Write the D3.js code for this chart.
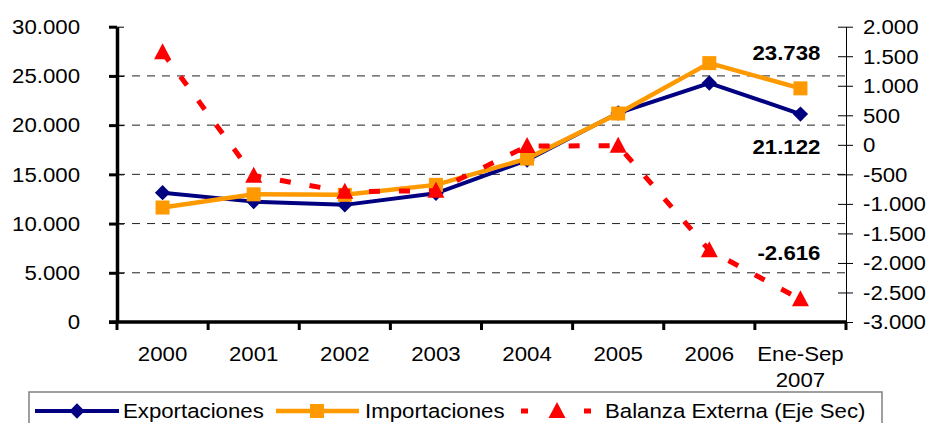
<!DOCTYPE html>
<html><head><meta charset="utf-8">
<script src="https://cdn.jsdelivr.net/npm/d3@7"></script>
<style>
html,body{margin:0;padding:0;background:#fff;}
svg{display:block;}
text{font-family:"Liberation Sans",Arial,sans-serif;font-size:19.5px;fill:#000;}
</style></head>
<body>
<svg id="chart" width="930" height="423"></svg>
<script>
const categories = ["2000","2001","2002","2003","2004","2005","2006","Ene-Sep 2007"];
const exportaciones = [13140, 12230, 11900, 13070, 16450, 21230, 24280, 21122];
const importaciones = [11630, 12970, 12920, 13930, 16600, 21180, 26300, 23738];
const balanza = [1566, -522, -793, -776, -22, -14, -1785, -2616];
const leftTicks = [0, 5000, 10000, 15000, 20000, 25000, 30000];
const rightTicks = [-3000, -2500, -2000, -1500, -1000, -500, 0, 500, 1000, 1500, 2000];
const gridTicks = [5000, 10000, 15000, 20000, 25000];
const seriesNames = ["Exportaciones", "Importaciones", "Balanza Externa (Eje Sec)"];

const SX = 1.14; // horizontal text stretch
const FS = "19.5px";
const FF = "Liberation Sans, Arial, sans-serif";
const loc = d3.formatLocale({decimal:",", thousands:".", grouping:[3], currency:["",""], minus:"-"});
const fmt = loc.format(",d");

const svg = d3.select("#chart");
const L = 117, R = 846, T = 26.7, B = 322;
const x = d3.scaleBand().domain(categories).range([L, R]);
const yL = d3.scaleLinear().domain([0, 30000]).range([B, T]);
const yR = d3.scaleLinear().domain([-3000, 2000]).range([B, T]);
const cx = c => x(c) + x.bandwidth()/2;

// gridlines
svg.append("g").selectAll("line").data(gridTicks).join("line")
  .attr("x1", L).attr("x2", R).attr("y1", d => yL(d)).attr("y2", d => yL(d))
  .attr("stroke", "#222").attr("stroke-width", 1).attr("stroke-dasharray", "8,7");

// left axis
const gl = svg.append("g").attr("transform", `translate(${L},0)`)
  .call(d3.axisLeft(yL).tickValues(leftTicks).tickSize(8).tickSizeOuter(0).tickFormat(fmt));
gl.select(".domain").attr("stroke", "#000").attr("stroke-width", 3.5);
gl.selectAll(".tick line").attr("stroke", "#000").attr("stroke-width", 3);
gl.selectAll(".tick").append("line").attr("x1", 0).attr("x2", 7).attr("stroke", "#000").attr("stroke-width", 1);
gl.selectAll(".tick text").attr("x", -37/SX).attr("dy", "0.35em")
  .attr("transform", `scale(${SX},1)`).style("font-size", FS).style("font-family", FF);

// right axis
const gr = svg.append("g").attr("transform", `translate(${R},0)`)
  .call(d3.axisRight(yR).tickValues(rightTicks).tickSize(7).tickSizeOuter(0).tickFormat(fmt));
gr.select(".domain").attr("stroke", "#000").attr("stroke-width", 1);
gr.selectAll(".tick line").attr("stroke", "#000").attr("stroke-width", 1);
gr.selectAll(".tick").append("line").attr("x1", 0).attr("x2", -8).attr("stroke", "#000").attr("stroke-width", 1);
gr.selectAll(".tick text").attr("x", 17/SX).attr("dy", "0.35em")
  .attr("transform", `scale(${SX},1)`).style("font-size", FS).style("font-family", FF);

// bottom axis
const gb = svg.append("g").attr("transform", `translate(0,${B})`)
  .call(d3.axisBottom(x).tickSize(0).tickPadding(0));
gb.select(".domain").remove();
gb.append("line").attr("x1", L - 8).attr("x2", R).attr("y1", 0).attr("y2", 0)
  .attr("stroke", "#000").attr("stroke-width", 3.5);
const bounds = categories.map(c => x(c)).concat([R]);
gb.selectAll("line.bt").data(bounds).join("line").attr("class", "bt")
  .attr("x1", d => d).attr("x2", d => d).attr("y1", 0).attr("y2", 8)
  .attr("stroke", "#000").attr("stroke-width", 3);
gb.selectAll(".tick").each(function(d) {
  const tick = d3.select(this);
  tick.select("text").remove();
  d.split(" ").forEach((p, i) => {
    tick.append("text").attr("transform", `translate(0,${40 + i * 26}) scale(${SX},1)`)
      .attr("text-anchor", "middle").attr("dy", "-0.05em")
      .style("font-size", FS).style("font-family", FF).attr("fill", "#000").text(p);
  });
});

// lines
const line = (scale, vals) => d3.line().x((d, i) => cx(categories[i])).y(d => scale(d))(vals);

svg.append("path").attr("d", line(yL, exportaciones)).attr("fill", "none")
  .attr("stroke", "#000080").attr("stroke-width", 4);
svg.append("g").selectAll("path").data(exportaciones).join("path")
  .attr("d", d3.symbol(d3.symbolDiamond2, 150)())
  .attr("transform", (d, i) => `translate(${cx(categories[i])},${yL(d)})`)
  .attr("fill", "#000080");

svg.append("path").attr("d", line(yL, importaciones)).attr("fill", "none")
  .attr("stroke", "#FF9900").attr("stroke-width", 4.5);
svg.append("g").selectAll("rect").data(importaciones).join("rect")
  .attr("x", (d, i) => cx(categories[i]) - 7).attr("y", d => yL(d) - 7)
  .attr("width", 14).attr("height", 14).attr("fill", "#FF9900");

svg.append("path").attr("d", line(yR, balanza)).attr("fill", "none")
  .attr("stroke", "#FF0000").attr("stroke-width", 5).attr("stroke-dasharray", "11,19");
const tri = d => `M0,-9L8.5,7L-8.5,7Z`;
svg.append("g").selectAll("path").data(balanza).join("path")
  .attr("d", tri)
  .attr("transform", (d, i) => `translate(${cx(categories[i])},${yR(d)})`)
  .attr("fill", "#FF0000");

// data labels for the last point
const last = categories.length - 1;
const lx = cx(categories[last]) + 20;
const labels = [
  {v: importaciones[last], y: yL(importaciones[last]) - 35},
  {v: exportaciones[last], y: yL(exportaciones[last]) + 33},
  {v: balanza[last], y: yR(balanza[last]) - 46}
];
labels.forEach(l => {
  svg.append("text").attr("transform", `translate(${lx},${l.y}) scale(${SX},1)`)
    .attr("text-anchor", "end").attr("dy", "0.35em").attr("font-weight", "bold").text(fmt(l.v));
});

// legend
const lg = svg.append("g");
lg.append("rect").attr("x", 29).attr("y", 392).attr("width", 853).attr("height", 50)
  .attr("fill", "#fff").attr("stroke", "#808080").attr("stroke-width", 1.5);
const ly = 411;
lg.append("line").attr("x1", 35).attr("x2", 119).attr("y1", ly).attr("y2", ly).attr("stroke", "#000080").attr("stroke-width", 4);
lg.append("path").attr("d", d3.symbol(d3.symbolDiamond2, 150)()).attr("transform", `translate(77,${ly})`).attr("fill", "#000080");
lg.append("text").attr("transform", `translate(123,${ly}) scale(${SX},1)`).attr("dy", "0.35em").text(seriesNames[0]);
lg.append("line").attr("x1", 276).attr("x2", 359).attr("y1", ly).attr("y2", ly).attr("stroke", "#FF9900").attr("stroke-width", 4.5);
lg.append("rect").attr("x", 310).attr("y", ly - 7).attr("width", 14).attr("height", 14).attr("fill", "#FF9900");
lg.append("text").attr("transform", `translate(365,${ly}) scale(${SX},1)`).attr("dy", "0.35em").text(seriesNames[1]);
lg.append("line").attr("x1", 521).attr("x2", 591).attr("y1", ly).attr("y2", ly).attr("stroke", "#FF0000").attr("stroke-width", 5).attr("stroke-dasharray", "7,56");
lg.append("path").attr("d", tri).attr("transform", `translate(557,${ly})`).attr("fill", "#FF0000");
lg.append("text").attr("transform", `translate(605,${ly}) scale(${SX},1)`).attr("dy", "0.35em").text(seriesNames[2]);
</script>
</body></html>
